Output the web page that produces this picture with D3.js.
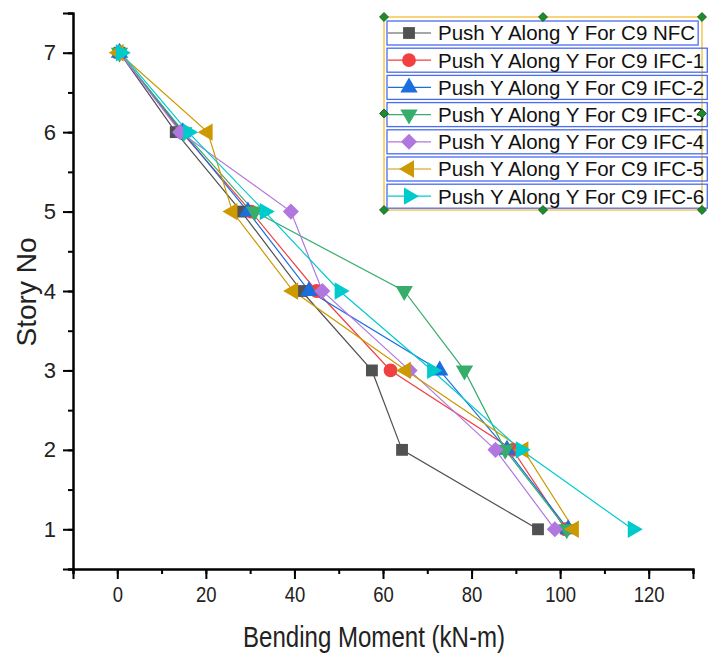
<!DOCTYPE html>
<html>
<head>
<meta charset="utf-8">
<script src="https://cdn.jsdelivr.net/npm/d3@7"></script>
<style>
  html, body { margin: 0; padding: 0; background: #fff; }
  svg { display: block; }
</style>
</head>
<body>
<svg id="chart" width="709" height="656"></svg>
<script>
const stories = [7, 6, 5, 4, 3, 2, 1];
const seriesNames = [
  "Push Y Along Y For C9 NFC",
  "Push Y Along Y For C9 IFC-1",
  "Push Y Along Y For C9 IFC-2",
  "Push Y Along Y For C9 IFC-3",
  "Push Y Along Y For C9 IFC-4",
  "Push Y Along Y For C9 IFC-5",
  "Push Y Along Y For C9 IFC-6"
];
const nfc  = [0.5, 13.2, 28.0, 41.6, 57.5, 64.3, 95.0];
const ifc1 = [0.5, 14.5, 30.2, 45.0, 61.7, 89.3, 101.2];
const ifc2 = [0.5, 14.8, 29.5, 43.3, 72.8, 88.0, 101.8];
const ifc3 = [0.5, 15.0, 31.0, 64.8, 78.4, 87.6, 101.5];
const ifc4 = [0.5, 14.2, 39.2, 46.3, 66.0, 85.4, 98.8];
const ifc5 = [0.3, 20.4, 26.0, 39.7, 65.2, 91.7, 103.1];
const ifc6 = [0.8, 16.0, 33.3, 50.2, 71.1, 91.1, 116.4];
const seriesValues = [nfc, ifc1, ifc2, ifc3, ifc4, ifc5, ifc6];
const colors = ["#515151", "#F14040", "#1A6FDF", "#37AD6B", "#B177DE", "#CC9900", "#00CBCC"];
const shapes = ["square", "circle", "triUp", "triDown", "diamond", "triLeft", "triRight"];
const xTicks = [0, 20, 40, 60, 80, 100, 120];
const yTicks = [1, 2, 3, 4, 5, 6, 7];
const xTitle = "Bending Moment (kN-m)";
const yTitle = "Story No";

const svg = d3.select("#chart");
const L = 73, R = 693, T = 13, B = 569;
const x = d3.scaleLinear().domain([-10, 130]).range([L, R]);
const y = d3.scaleLinear().domain([0.5, 7.5]).range([B, T]);

function symbolPath(shape) {
  switch (shape) {
    case "square": return {d: d3.symbol(d3.symbolSquare, 140)(), rot: 0};
    case "circle": return {d: d3.symbol(d3.symbolCircle, 150)(), rot: 0};
    case "triUp": return {d: d3.symbol(d3.symbolTriangle, 130)(), rot: 0};
    case "triDown": return {d: d3.symbol(d3.symbolTriangle, 130)(), rot: 180};
    case "triLeft": return {d: d3.symbol(d3.symbolTriangle, 130)(), rot: -90};
    case "triRight": return {d: d3.symbol(d3.symbolTriangle, 130)(), rot: 90};
    case "diamond": return {d: d3.symbol(d3.symbolSquare, 130)(), rot: 45};
  }
}

// Axes
const axisFont = "'Liberation Sans', Arial, sans-serif";
const gx = svg.append("g").attr("transform", `translate(0,${B})`);
gx.call(d3.axisBottom(x).tickValues(d3.range(-10, 131, 10)).tickSize(5).tickFormat(""));
const gx2 = svg.append("g").attr("transform", `translate(0,${B})`);
gx2.call(d3.axisBottom(x).tickValues(xTicks).tickSize(10).tickPadding(6).tickFormat(d3.format("d")));
[gx, gx2].forEach(g => {
  g.select(".domain").attr("stroke", "#000").attr("stroke-width", 2);
  g.selectAll(".tick line").attr("stroke", "#000").attr("stroke-width", 2);
});
gx2.selectAll(".tick text").attr("font-family", axisFont).attr("font-size", 22).attr("fill", "#222")
  .attr("dy", "0.75em")
  .each(function() { const w = this.getComputedTextLength(); d3.select(this).attr("textLength", w * 0.84).attr("lengthAdjust", "spacingAndGlyphs"); });

const gy = svg.append("g").attr("transform", `translate(${L},0)`);
gy.call(d3.axisLeft(y).tickValues(d3.range(0.5, 7.51, 0.5)).tickSize(5).tickFormat(""));
const gy2 = svg.append("g").attr("transform", `translate(${L},0)`);
gy2.call(d3.axisLeft(y).tickValues(yTicks).tickSize(10).tickPadding(7).tickFormat(d3.format("d")));
[gy, gy2].forEach(g => {
  g.select(".domain").attr("stroke", "#000").attr("stroke-width", 2);
  g.selectAll(".tick line").attr("stroke", "#000").attr("stroke-width", 2);
});
gy2.selectAll(".tick text").attr("font-family", axisFont).attr("font-size", 22).attr("fill", "#222");

// Axis titles
svg.append("text").attr("x", 374).attr("y", 647).attr("text-anchor", "middle")
  .attr("font-family", axisFont).attr("font-size", 29).attr("fill", "#222")
  .attr("textLength", 262).attr("lengthAdjust", "spacingAndGlyphs").text(xTitle);
svg.append("text").attr("transform", "translate(36,292) rotate(-90)").attr("text-anchor", "middle")
  .attr("font-family", axisFont).attr("font-size", 28).attr("fill", "#222").text(yTitle);

// Series
const line = d3.line().x(d => x(d.v)).y(d => y(d.s));
seriesValues.forEach((vals, i) => {
  const pts = vals.map((v, k) => ({v, s: stories[k]}));
  svg.append("path").datum(pts).attr("d", line).attr("fill", "none")
    .attr("stroke", colors[i]).attr("stroke-width", 1.2);
});
seriesValues.forEach((vals, i) => {
  const sp = symbolPath(shapes[i]);
  const pts = vals.map((v, k) => ({v, s: stories[k]}));
  svg.append("g").selectAll("path").data(pts).join("path")
    .attr("d", sp.d).attr("fill", colors[i])
    .attr("transform", d => `translate(${x(d.v)},${y(d.s)}) rotate(${sp.rot})`);
});

// Legend
const lg = svg.append("g");
const lx0 = 384, ly0 = 17, lx1 = 702, ly1 = 210;
lg.append("rect").attr("x", lx0).attr("y", ly0).attr("width", lx1 - lx0).attr("height", ly1 - ly0)
  .attr("fill", "#fff").attr("stroke", "#F5C84C").attr("stroke-width", 1.5);
const rowH = 27.2;
seriesNames.forEach((name, i) => {
  const ry = 21 + i * rowH;
  const row = lg.append("g");
  const txt = row.append("text").attr("x", 438).attr("y", ry + 12).attr("dy", "0.36em")
    .attr("font-family", axisFont).attr("font-size", 20.5).attr("fill", "#111").text(name);
  const w = txt.node().getComputedTextLength();
  row.insert("rect", "text").attr("x", 387).attr("y", ry).attr("width", (438 + w + 3) - 387).attr("height", 24)
    .attr("fill", "none").attr("stroke", "#4A6CF0").attr("stroke-width", 1.3);
  row.append("line").attr("x1", 388).attr("x2", 431).attr("y1", ry + 12).attr("y2", ry + 12)
    .attr("stroke", colors[i]).attr("stroke-width", 1.2);
  const sp = symbolPath(shapes[i]);
  row.append("path").attr("d", sp.d).attr("fill", colors[i])
    .attr("transform", `translate(409,${ry + 12}) rotate(${sp.rot})`);
});
// selection handles
const handles = [[lx0, ly0], [(lx0 + lx1) / 2, ly0], [lx1, ly0], [lx0, (ly0 + ly1) / 2], [lx1, (ly0 + ly1) / 2],
  [lx0, ly1], [(lx0 + lx1) / 2, ly1], [lx1, ly1]];
lg.selectAll(".h").data(handles).join("path").attr("class", "h")
  .attr("d", d3.symbol(d3.symbolSquare, 40)())
  .attr("transform", d => `translate(${d[0]},${d[1]}) rotate(45)`)
  .attr("fill", "#1E8C2E").attr("stroke", "#0B5A14").attr("stroke-width", 0.8);
</script>
</body>
</html>
